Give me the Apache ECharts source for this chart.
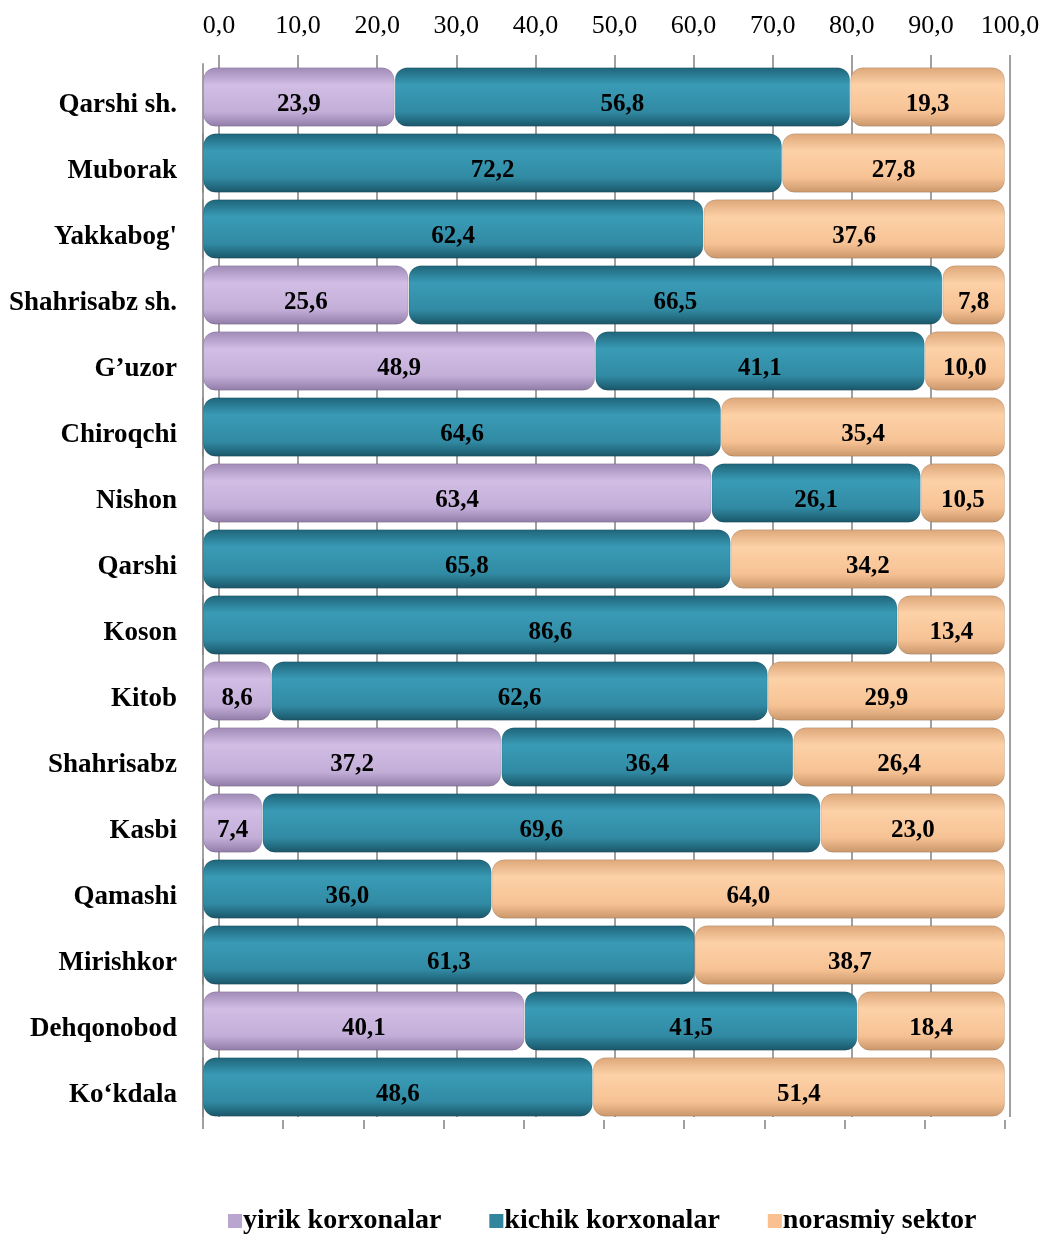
<!DOCTYPE html>
<html>
<head>
<meta charset="utf-8">
<script src="https://cdn.jsdelivr.net/npm/echarts@6/dist/echarts.min.js"></script>
<style>
html,body{margin:0;padding:0;background:#fff;}
#chart{width:1043px;height:1234px;}
</style>
</head>
<body>
<div id="chart"></div>
<script>
const categories = ["Qarshi sh.", "Muborak", "Yakkabog'", "Shahrisabz sh.", "G’uzor", "Chiroqchi", "Nishon", "Qarshi", "Koson", "Kitob", "Shahrisabz", "Kasbi", "Qamashi", "Mirishkor", "Dehqonobod", "Ko‘kdala"];
const seriesNames = ["yirik korxonalar", "kichik korxonalar", "norasmiy sektor"];
const yirik   = [23.9, 0, 0, 25.6, 48.9, 0, 63.4, 0, 0, 8.6, 37.2, 7.4, 0, 0, 40.1, 0];
const kichik  = [56.8, 72.2, 62.4, 66.5, 41.1, 64.6, 26.1, 65.8, 86.6, 62.6, 36.4, 69.6, 36.0, 61.3, 41.5, 48.6];
const norasmiy= [19.3, 27.8, 37.6, 7.8, 10.0, 35.4, 10.5, 34.2, 13.4, 29.9, 26.4, 23.0, 64.0, 38.7, 18.4, 51.4];
const tickLabels = ["0,0","10,0","20,0","30,0","40,0","50,0","60,0","70,0","80,0","90,0","100,0"];

const raw = [yirik, kichik, norasmiy];
const totals = categories.map((c, i) => yirik[i] + kichik[i] + norasmiy[i]);

const solid = ["#b9a5d0", "#31859c", "#fac090"];
const grads = [
  [[0,"#9f8ab6"],[0.3,"#d2bde5"],[0.75,"#c3aed8"],[1,"#8f7ba5"]],
  [[0,"#1e6479"],[0.3,"#3a9bb6"],[0.75,"#318aa3"],[1,"#1a5567"]],
  [[0,"#dca679"],[0.3,"#fdd1a7"],[0.75,"#f6c294"],[1,"#c9966a"]]
];
const lineGray = '#a0a0a0';
const serif = 'Liberation Serif';

const chart = echarts.init(document.getElementById('chart'));
const series = raw.map((arr, s) => ({
  name: seriesNames[s],
  type: 'bar',
  stack: 'total',
  xAxisIndex: 0,
  yAxisIndex: 0,
  barCategoryGap: '10%',
  data: arr.map((v, i) => ({ value: v / totals[i] * 100, raw: v })),
  itemStyle: {
    color: new echarts.graphic.LinearGradient(0, 0, 0, 1, grads[s].map(g => ({offset: g[0], color: g[1]}))),
    borderRadius: 12,
    borderColor: 'rgba(0,0,0,0.12)',
    borderWidth: 1
  },
  label: {
    show: true,
    position: 'inside',
    offset: [0, 8],
    color: '#000',
    fontFamily: serif,
    fontWeight: 'bold',
    fontSize: 25,
    formatter: p => p.data.raw > 0 ? p.data.raw.toFixed(1).replace('.', ',') : ''
  }
}));

chart.setOption({
  animation: false,
  backgroundColor: '#fff',
  grid: [
    { left: 203, right: 38, top: 64, height: 1056 },   // front (bars)
    { left: 219, right: 33, top: 55, bottom: 117 }      // back wall
  ],
  xAxis: [
    {
      gridIndex: 0, type: 'value', position: 'bottom',
      min: 0, max: 100, interval: 10,
      axisLine: { show: false },
      axisTick: { show: true, length: 9, lineStyle: { color: lineGray, width: 2 } },
      axisLabel: { show: false },
      splitLine: { show: false }
    },
    {
      gridIndex: 1, type: 'value', position: 'top',
      min: 0, max: 100, interval: 10,
      axisLine: { show: false },
      axisTick: { show: false },
      axisLabel: {
        color: '#000', fontFamily: serif, fontSize: 26, margin: 16,
        formatter: v => tickLabels[Math.round(v / 10)]
      },
      splitLine: { show: true, lineStyle: { color: lineGray, width: 2 } }
    }
  ],
  yAxis: [
    {
      gridIndex: 0,
      type: 'category',
      inverse: true,
      data: categories,
      offset: 5,
      axisLine: { show: true, lineStyle: { color: lineGray, width: 2 } },
      axisTick: { show: false },
      axisLabel: {
        color: '#000', fontFamily: serif, fontWeight: 'bold', fontSize: 27, margin: 21,
        verticalAlign: 'top', lineHeight: 16
      }
    },
    {
      gridIndex: 1, type: 'value', min: 0, max: 1,
      axisLine: { show: false }, axisTick: { show: false },
      axisLabel: { show: false }, splitLine: { show: false }
    }
  ],
  legend: {
    left: 223,
    top: 1202,
    itemGap: 48,
    itemWidth: 14,
    itemHeight: 14,
    textStyle: { color: '#000', fontFamily: serif, fontWeight: 'bold', fontSize: 28, padding: [0,0,0,-4] },
    data: seriesNames.map((n, s) => ({ name: n, icon: 'rect', itemStyle: { color: solid[s], borderWidth: 0 } }))
  },
  series: series
});
</script>
</body>
</html>
